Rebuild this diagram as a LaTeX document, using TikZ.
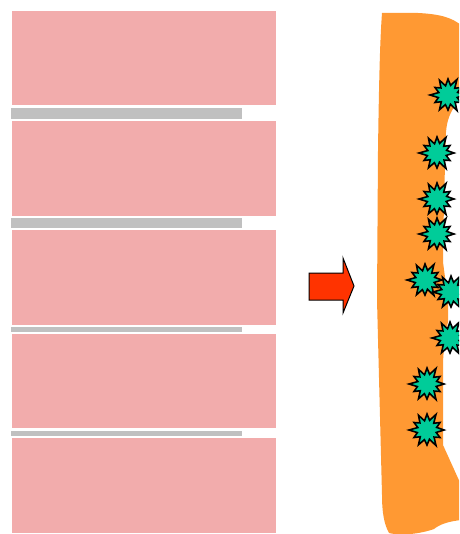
\documentclass[tikz,border=0pt]{standalone}
\definecolor{pinkfill}{HTML}{F2ACAC}
\definecolor{barfill}{HTML}{C0C0C0}
\definecolor{orangefill}{HTML}{FF9933}
\definecolor{greenfill}{HTML}{00CC99}
\definecolor{arrowfill}{HTML}{FF3300}
\tikzset{
  layer/.style={fill=pinkfill, draw=none},
  gapbar/.style={fill=barfill, draw=none},
  burststyle/.style={fill=greenfill, draw=black, line width=1.6pt, line join=miter},
  burst/.pic={
    \path[burststyle] (0:17) -- (15:9.5) -- (30:15) -- (45:10) -- (60:18) -- (75:9.5)
      -- (90:15) -- (105:10) -- (120:17) -- (135:9.5) -- (150:15) -- (165:10)
      -- (180:18) -- (195:9.5) -- (210:15) -- (225:10) -- (240:17) -- (255:9.5)
      -- (270:16) -- (285:10) -- (300:18) -- (315:9.5) -- (330:15) -- (345:10) -- cycle;
  }
}
\begin{document}
\begin{tikzpicture}[x=1pt,y=-1pt]
\useasboundingbox (0,0) rectangle (459,534);
\clip (0,0) rectangle (459,534);
% pink layers
\fill[layer] (12,11) rectangle (276,105);
\fill[layer] (12,121) rectangle (276,216);
\fill[layer] (12,230) rectangle (276,325);
\fill[layer] (12,334) rectangle (276,428);
\fill[layer] (12,438) rectangle (276,533);
% gray bars
\fill[gapbar] (11,108) rectangle (242,119.5);
\fill[gapbar] (11,218) rectangle (242,227.5);
\fill[gapbar] (11,326.5) rectangle (242,331.5);
\fill[gapbar] (11,431) rectangle (242,436);
% arrow
\draw[fill=arrowfill, draw=black, line width=1pt, line join=miter]
  (309,273) -- (343,273) -- (343,258) -- (354,286) -- (343,313) -- (343,300) -- (309,300) -- cycle;
% orange body
\fill[orangefill] (382,13) -- (418,13) .. controls (438,14) and (452,17) .. (462,26)
  -- (462,92) -- (456,104) .. controls (450,113) and (447,120) .. (446,132)
  -- (444,200) -- (443,262) -- (448,300) -- (448,322)
  .. controls (445,334) and (444,345) .. (443,362)
  -- (443,445) -- (462,487) -- (462,520)
  .. controls (450,521) and (440,524) .. (434,529)
  .. controls (420,534) and (400,536) .. (389,533)
  .. controls (384,524) and (382,512) .. (382,495)
  -- (377,300) -- (378,150) .. controls (379,80) and (380,40) .. (382,13) -- cycle;
% bursts
\pic at (448,95) {burst};
\pic at (437,153) {burst};
\pic at (437,199) {burst};
\pic at (437,234) {burst};
\pic at (425,280) {burst};
\pic at (451,292) {burst};
\pic at (450,338) {burst};
\pic at (427,384) {burst};
\pic at (427,430) {burst};
\end{tikzpicture}
\end{document}
